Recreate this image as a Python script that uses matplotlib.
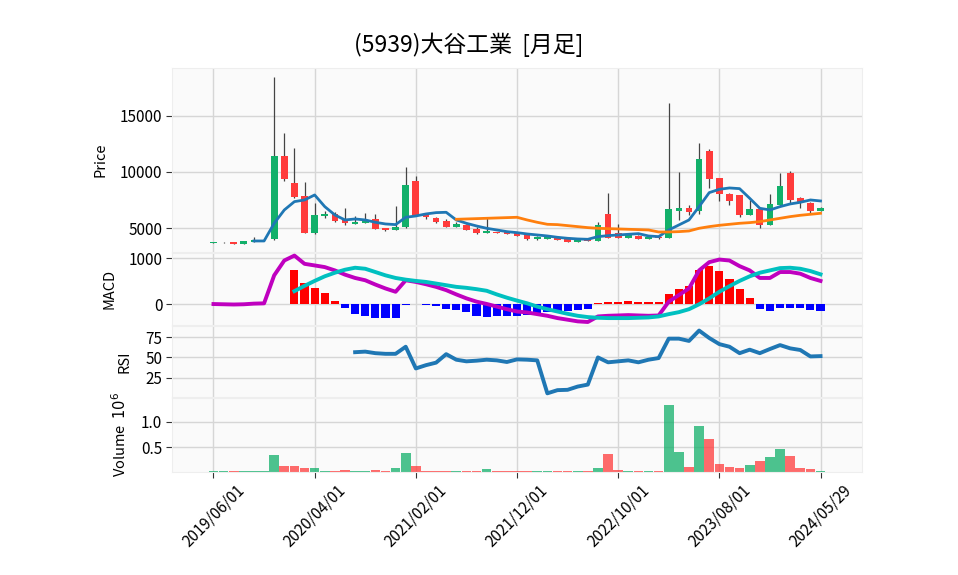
import numpy as np
import matplotlib
matplotlib.use("Agg")
import matplotlib.pyplot as plt

plt.rcParams['font.family'] = ['Noto Sans CJK JP', 'DejaVu Sans']

title = "(5939)大谷工業  [月足]"
tick_labels = ['2019/06/01', '2020/04/01', '2021/02/01', '2021/12/01',
               '2022/10/01', '2023/08/01', '2024/05/29']

opens = [3720, 3740, 3757, 3638, 3816, 3950, 4023, 11423, 8996, 7871,
         4615, 6125, 6243, 5799, 5414, 5503, 5799, 5000, 4882, 5089,
         9203, 6214, 5947, 5651, 5148, 5326, 4941, 4615, 4674, 4704,
         4615, 4497, 4053, 4080, 4171, 4023, 3786, 4053, 3905, 6273,
         4556, 4171, 4349, 4053, 4260, 4171, 6569, 6776, 6569, 11897,
         9470, 8049, 7960, 6184, 6717, 5296, 7042, 9884, 7723, 7220,
         6569]
highs = [3790, 3800, 3770, 3890, 4201, 3990, 18409, 13436, 12104, 9144,
         7279, 6569, 6480, 6776, 6095, 6332, 6243, 5050, 7013, 10476,
         9677, 6391, 6000, 5799, 5592, 5350, 5148, 6036, 4700, 4750,
         4650, 4556, 4300, 4290, 4200, 4050, 4110, 4080, 5533, 8108,
         5385, 4440, 4380, 4290, 4290, 16100, 9973, 7042, 12548, 12015,
         9500, 8150, 8000, 7516, 6750, 8049, 9884, 10062, 7800, 7368,
         6900]
lows = [3700, 3720, 3620, 3620, 3790, 3930, 3990, 9200, 7664, 4600,
        4497, 5888, 5533, 5266, 5355, 5444, 4950, 4800, 4850, 5050,
        6150, 5799, 5500, 5100, 5100, 4850, 4526, 4600, 4550, 4500,
        4320, 3964, 4000, 4020, 3940, 3790, 3760, 3880, 3880, 4100,
        4140, 4140, 4020, 4020, 4080, 4140, 5740, 6184, 6243, 8552,
        7427, 7072, 6036, 6150, 5000, 5250, 7000, 7220, 6776, 6391,
        6540]
closes = [3757, 3780, 3638, 3875, 3964, 3964, 11423, 9351, 7812, 4615,
          6184, 6302, 5681, 5444, 5562, 5740, 4970, 4852, 5118, 8848,
          6184, 5977, 5562, 5148, 5385, 4882, 4615, 4793, 4586, 4526,
          4349, 4053, 4260, 4230, 3964, 3816, 4082, 3905, 5296, 4142,
          4171, 4408, 4053, 4260, 4112, 6717, 6835, 6480, 11157, 9410,
          8019, 7457, 6184, 6717, 5296, 7161, 8759, 7516, 7368, 6569,
          6835]
volume_m = [0.02, 0.02, 0.02, 0.02, 0.02, 0.02, 0.35, 0.127, 0.127, 0.087,
            0.087, 0.027, 0.027, 0.047, 0.027, 0.027, 0.047, 0.027, 0.087, 0.387,
            0.127, 0.02, 0.02, 0.02, 0.02, 0.02, 0.02, 0.067, 0.02, 0.02,
            0.02, 0.02, 0.02, 0.02, 0.02, 0.02, 0.02, 0.02, 0.087, 0.367,
            0.047, 0.02, 0.02, 0.02, 0.02, 1.347, 0.407, 0.10, 0.927, 0.66,
            0.167, 0.107, 0.087, 0.147, 0.227, 0.307, 0.467, 0.327, 0.087, 0.067,
            0.02]

ma5_start = 4
ma5 = [3875, 3875, 5444, 6628, 7368, 7516, 7960,
       6924, 6184, 5740, 5829, 5740, 5533, 5385, 5326, 5977, 6095,
       6273, 6391, 6421, 5740, 5444, 5207, 5000, 4852, 4704, 4615,
       4497, 4408, 4319, 4201, 4112, 4053, 4023, 4260, 4349, 4408,
       4467, 4526, 4319, 4260, 4852, 5296, 5740, 6924, 8167, 8463,
       8582, 8522, 7664, 6776, 6628, 6924, 7161, 7309, 7516, 7427]
ma25_start = 24
ma25 = [5799, 5829, 5858, 5888, 5918, 5947, 5977,
        5740, 5533, 5355, 5326, 5237, 5148, 5059, 5000, 4970, 4941,
        4911, 4882, 4852, 4674, 4674, 4704, 4763, 5000, 5148, 5266,
        5355, 5444, 5503, 5592, 5740, 5888, 6036, 6154, 6243, 6332]

macd = [5, 0, -5, 0, 14, 20, 628, 950, 1057, 878,
        843, 807, 735, 643, 571, 521, 428, 343, 271, 521,
        485, 435, 378, 307, 214, 128, 57, 7, -50, -107,
        -157, -178, -214, -250, -300, -335, -371, -385, -264, -250,
        -243, -235, -243, -250, -243, 57, 200, 343, 735, 914,
        971, 950, 828, 735, 571, 571, 700, 700, 664, 571,
        507]
signal_start = 8
signal = [285, 400, 507, 607, 685, 750, 793, 771, 700, 628,
          571, 535, 507, 485, 450, 414, 378, 357, 328, 293,
          214, 143, 80,
          21, -50, -107, -157, -207, -250, -278, -293, -300, -300,
          -300, -293, -286, -264, -214, -171, -107, 0, 128, 271,
          393, 507, 607, 685, 735, 785, 793, 771, 721, 650]
hist = [750, 471, 343, 236, 64, -86, -214, -264, -300, -300,
        -300, -14, 0, -14, -28, -107, -128, -178, -250, -286,
        -264, -264, -250,
        -228, -193, -171, -157, -143, -121, -107, 21, 43, 43,
        64, 43, 43, 43, 214, 321, 393, 735, 821, 714,
        557, 321, 128, -100, -143, -71, -71, -71, -121, -143]

rsi_start = 14
rsi = [56.4, 57.1, 55.2, 54.4, 54.4, 63.1, 36.5, 40.5, 43.6, 54.0,
       47.2, 45.2, 46.0, 47.2, 46.4, 44.4, 47.6, 47.2, 46.4, 6.0,
       9.9, 10.3, 14.3, 16.7, 50.0, 44.0, 45.2, 46.4, 44.0, 47.2,
       49.2, 73.0, 73.0, 70.2, 82.9, 73.8, 66.3, 63.1, 55.2, 59.5,
       55.2, 60.3, 65.1, 61.1, 59.1, 51.2, 51.6]

# ---------------- styling ----------------
UP = '#12b06a'
DOWN = '#ff3b3b'
FACE = '#fafafa'
GRID = '#d6d6d6'
TICKFS = 11

W, H = 958, 575
fig = plt.figure(figsize=(W / 100, H / 100), dpi=100)

def add_ax(top_px, bot_px):
    l = 172 / W
    w = 690 / W
    b = 1 - bot_px / H
    h = (bot_px - top_px) / H
    ax = fig.add_axes([l, b, w, h])
    ax.set_facecolor(FACE)
    for s in ax.spines.values():
        s.set_color('#eeeeee')
    ax.grid(True, color=GRID, linewidth=1.0)
    ax.set_axisbelow(True)
    ax.tick_params(axis='y', labelsize=TICKFS, length=4, color='#333333', pad=3)
    return ax

ax_p = add_ax(68, 252)
ax_m = add_ax(253, 325)
ax_r = add_ax(326, 397)
ax_v = add_ax(398, 472)

n = len(closes)
x = np.arange(n)
xt = np.arange(0, n, 10)

for ax in (ax_p, ax_m, ax_r, ax_v):
    ax.set_xlim(-4.1, 64.1)
    ax.set_xticks(xt)
for ax in (ax_p, ax_m, ax_r):
    ax.tick_params(axis='x', labelbottom=False, length=0)

# candles
colors = [UP if c >= o else DOWN for o, c in zip(opens, closes)]
ax_p.vlines(x, lows, highs, color='#444444', linewidth=0.9, zorder=2)
body_h = [max(abs(c - o), 25) for o, c in zip(opens, closes)]
body_b = [min(o, c) for o, c in zip(opens, closes)]
ax_p.bar(x, body_h, bottom=body_b, width=0.66, color=colors, zorder=3)
ax_p.plot(np.arange(ma5_start, ma5_start + len(ma5)), ma5, color='#1f77b4', lw=2.0, zorder=4)
ax_p.plot(np.arange(ma25_start, ma25_start + len(ma25)), ma25, color='#ff7f0e', lw=2.0, zorder=4)
ax_p.set_ylim(2895, 19234)
ax_p.set_yticks([5000, 10000, 15000])
ax_p.set_ylabel('Price', fontsize=10.5)

# MACD
hx = np.arange(signal_start, signal_start + len(hist))
hcol = ['#ff0000' if v >= 0 else '#0000ff' for v in hist]
ax_m.bar(hx, hist, width=0.8, color=hcol, zorder=2)
ax_m.plot(x, macd, color='#bf00bf', lw=2.8, zorder=3)
ax_m.plot(np.arange(signal_start, signal_start + len(signal)), signal, color='#00c0c0', lw=2.8, zorder=3)
ax_m.set_ylim(-450, 1113)
ax_m.set_yticks([0, 1000])
ax_m.set_ylabel('MACD', fontsize=10.5)

# RSI
ax_r.plot(np.arange(rsi_start, rsi_start + len(rsi)), rsi, color='#1f77b4', lw=2.8)
ax_r.set_ylim(1.5, 88.5)
ax_r.set_yticks([25, 50, 75])
ax_r.set_ylabel('RSI', fontsize=10.5)

# Volume
ax_v.bar(x, volume_m, width=0.95, color=colors, alpha=0.75, zorder=2)
ax_v.set_ylim(0, 1.48)
ax_v.set_yticks([0.5, 1.0])
ax_v.set_yticklabels(['0.5', '1.0'])
ax_v.set_ylabel('Volume  $10^{6}$', fontsize=10.5)
ax_v.set_xticklabels(tick_labels, rotation=45, ha='center', fontsize=TICKFS)
ax_v.tick_params(axis='x', length=4, color='#333333', pad=3)

ax_p.yaxis.set_label_coords(-0.094, 0.5)
ax_m.yaxis.set_label_coords(-0.081, 0.5)
ax_r.yaxis.set_label_coords(-0.058, 0.5)
ax_v.yaxis.set_label_coords(-0.062, 0.5)

fig.text(469 / W, 1 - 45 / H, title, ha='center', va='center', fontsize=16.5)

fig.savefig('out.png', dpi=100)
